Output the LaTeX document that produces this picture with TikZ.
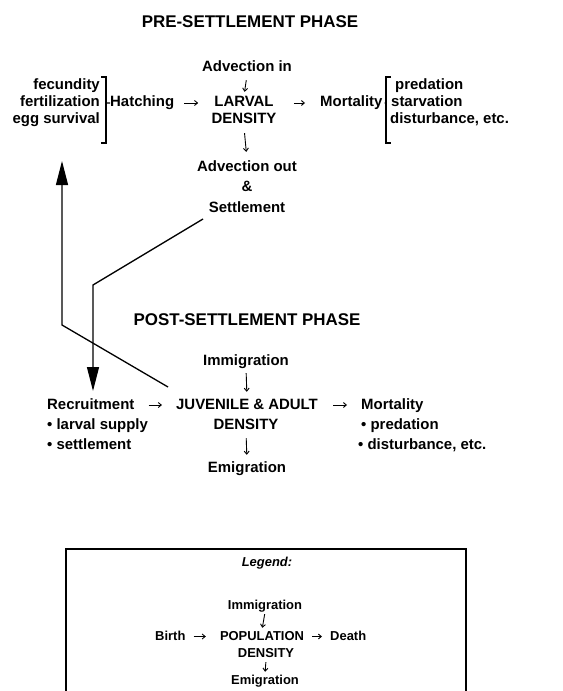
\documentclass[tikz,border=0pt]{standalone}
\usepackage{fontspec}
\setmainfont{Liberation Sans}
\usetikzlibrary{arrows.meta}
\begin{document}
\begin{tikzpicture}[x=1bp,y=-1bp,
  t/.style={font=\bfseries\fontsize{15}{17}\selectfont, inner sep=0pt, text height=11bp, text depth=3bp, anchor=base},
  tl/.style={t, anchor=base west},
  tr/.style={t, anchor=base east},
  lg/.style={font=\bfseries\fontsize{13}{15}\selectfont, inner sep=0pt, text height=10bp, text depth=3bp, anchor=base},
  ttl/.style={font=\bfseries\fontsize{17}{19}\selectfont, inner sep=0pt, anchor=base},
  sarr/.style={-{Straight Barb[length=3bp,width=5bp]}, line width=0.9bp},
  bigarr/.style={-{Triangle[length=24bp,width=12bp]}, line width=1.3bp},
  br/.style={line width=1.2bp},
]
\useasboundingbox (0,0) rectangle (563,691);
% ---------- PRE-SETTLEMENT ----------
\node[ttl] (ptitle) at (250,28) {PRE-SETTLEMENT PHASE};
\node[t] (advin) at (247,72) {Advection in};
\node[t] (larval) at (244,107) {LARVAL};
\node[t] (ldens) at (244,124) {DENSITY};
\node[t] (advout) at (247,171) {Advection out};
\node[t] (amp) at (247,191) {\&};
\node[t] (settle) at (247,212) {Settlement};
\node[tr] (fec) at (100,90) {fecundity};
\node[tr] (fert) at (100,107) {fertilization};
\node[tr] (egg) at (100,124) {egg survival};
\node[tl] (hatch) at (110,107) {Hatching};
\node[tl] (mort) at (320,107) {Mortality};
\node[tl] (pred) at (395,90) {predation};
\node[tl] (starv) at (391,107) {starvation};
\node[tl] (dist) at (390,124) {disturbance, etc.};
% brackets
\draw[br] (101,77) -- (106,77) -- (106,143) -- (101,143);
\draw[br] (106,103) -- (hatch.west);
\draw[br] (391,77) -- (386,77) -- (386,143) -- (391,143);
\draw[br, shorten >=2bp] (386,103) -- (mort.east);
% small arrows
\draw[sarr, shorten <=10bp, shorten >=16bp] (hatch.east) -- (larval.west);
\draw[sarr, shorten <=20bp, shorten >=15bp] (larval.east) -- (mort.west);
\draw[sarr, shorten <=5bp, shorten >=4bp] (advin.south) -- (larval.north);
\draw[sarr, shorten <=6bp, shorten >=8bp] (ldens.south) -- (advout.north);
% ---------- POST-SETTLEMENT ----------
\node[ttl] (qtitle) at (247,325) {POST-SETTLEMENT PHASE};
\node[t] (immig) at (246,365) {Immigration};
\node[t] (juv) at (247,409) {JUVENILE \& ADULT};
\node[t] (jdens) at (246,429) {DENSITY};
\node[t] (emig) at (247,472) {Emigration};
\node[tl] (recr) at (47,409) {Recruitment};
\node[tl] (lsup) at (47,429) {\textbullet\ larval supply};
\node[tl] (sett) at (47,449) {\textbullet\ settlement};
\node[tl] (mort2) at (361,409) {Mortality};
\node[tl] (pred2) at (361,429) {\textbullet\ predation};
\node[tl] (dist2) at (358,449) {\textbullet\ disturbance, etc.};
\draw[sarr, shorten <=14bp, shorten >=14bp] (recr.east) -- (juv.west);
\draw[sarr, shorten <=15bp, shorten >=14bp] (juv.east) -- (mort2.west);
\draw[sarr, shorten <=5bp, shorten >=6bp] (immig.south) -- (juv.north);
\draw[sarr, shorten <=6bp, shorten >=6bp] (jdens.south) -- (emig.north);
% ---------- feedback lines ----------
\coordinate (fbstart) at (168,387);
\coordinate (fbbend) at (62,325);
\coordinate (fbtip) at (62,161);
\draw[bigarr] (fbstart) -- (fbbend) -- (fbtip);
\coordinate (sstart) at (203,219);
\coordinate (sbend) at (93,285);
\coordinate (stip) at (93,391);
\draw[bigarr] (sstart) -- (sbend) -- (stip);
% ---------- Legend ----------
\draw[line width=1.3bp] (66,691) -- (66,549) -- (466,549) -- (466,691);
\node[lg, font=\bfseries\itshape\fontsize{13}{15}\selectfont] (legend) at (267,566) {Legend:};
\node[lg] (limm) at (265,609) {Immigration};
\node[lg] (pop) at (262,640) {POPULATION};
\node[lg] (pdens) at (266,657) {DENSITY};
\node[lg] (lemig) at (265,684) {Emigration};
\node[lg, anchor=base west] (birth) at (155,640) {Birth};
\node[lg, anchor=base west] (death) at (330,640) {Death};
\draw[sarr, shorten <=8bp, shorten >=14bp] (birth.east) -- (pop.west);
\draw[sarr, shorten <=8bp, shorten >=8bp] (pop.east) -- (death.west);
\draw[sarr, shorten <=2bp, shorten >=2bp] (limm.south) -- (pop.north);
\draw[sarr, shorten <=2bp, shorten >=2bp] (pdens.south) -- (lemig.north);
\end{tikzpicture}
\end{document}
